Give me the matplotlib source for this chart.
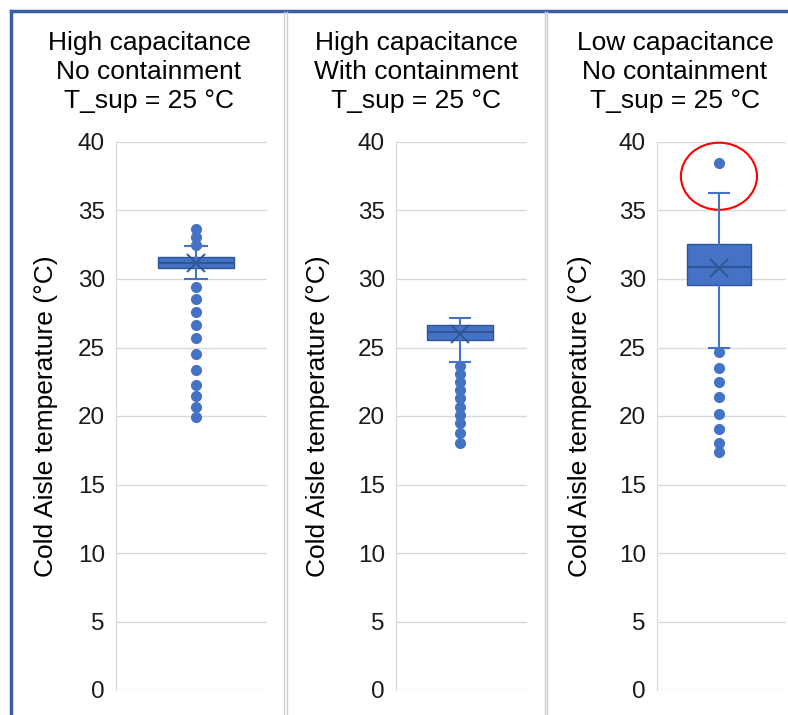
import matplotlib
matplotlib.use("Agg")
import matplotlib.pyplot as plt
from matplotlib.lines import Line2D
from matplotlib.patches import Ellipse

plt.rcParams['font.family'] = ['Liberation Sans', 'DejaVu Sans']

titles = [
    "High capacitance\nNo containment\nT_sup = 25 °C",
    "High capacitance\nWith containment\nT_sup = 25 °C",
    "Low capacitance\nNo containment\nT_sup = 25 °C",
]
ylabel = "Cold Aisle temperature (°C)"
yticks = [0, 5, 10, 15, 20, 25, 30, 35, 40]

# five-number summary + mean for each case
q1 = [30.83, 25.55, 29.56]
median = [31.2, 26.15, 30.9]
q3 = [31.58, 26.64, 32.55]
whisker_lo = [29.97, 23.92, 25.0]
whisker_hi = [32.4, 27.18, 36.3]
mean = [31.15, 26.0, 30.77]
outliers = [
    [33.63, 33.04, 32.5, 29.39, 28.52, 27.61, 26.64, 25.67, 24.55,
     23.36, 22.28, 21.46, 20.68, 19.93],
    [23.65, 23.07, 22.5, 21.9, 21.3, 20.68, 20.07, 19.47, 18.78, 18.05],
    [38.5, 24.7, 23.48, 22.46, 21.36, 20.15, 19.03, 18.0, 17.35],
]

BLUE = "#4472C4"
DARK = "#2F5597"
GRID = "#D9D9D9"

W, H = 788, 715
fig = plt.figure(figsize=(W / 100, H / 100), dpi=100)

# axes boxes in pixels: left, right
ax_px = [(116, 267), (396, 527), (657, 786)]
top_px, bot_px = 142, 690
xlims = [(0.47, 1.47), (0.51, 1.51), (0.52, 1.52)]
title_x = [149, 416, 675]
ylabel_x = [46, 318, 580]

axes = []
for i in range(3):
    l, r = ax_px[i]
    ax = fig.add_axes([l / W, 1 - bot_px / H, (r - l) / W, (bot_px - top_px) / H])
    stats = [{
        "med": median[i], "q1": q1[i], "q3": q3[i],
        "whislo": whisker_lo[i], "whishi": whisker_hi[i],
        "mean": mean[i], "fliers": outliers[i],
    }]
    ax.bxp(stats, positions=[1], widths=0.5, capwidths=0.15,
           showmeans=True, patch_artist=True,
           boxprops=dict(facecolor=BLUE, edgecolor=DARK, linewidth=1),
           medianprops=dict(color=DARK, linewidth=1.5),
           whiskerprops=dict(color=BLUE, linewidth=1.5),
           capprops=dict(color=BLUE, linewidth=1.5),
           meanprops=dict(marker="x", markeredgecolor=DARK, markersize=13,
                          markeredgewidth=1.4),
           flierprops=dict(marker="o", markerfacecolor=BLUE,
                           markeredgecolor=BLUE, markersize=7))
    ax.set_xlim(*xlims[i])
    ax.set_ylim(0, 40)
    ax.set_yticks(yticks)
    ax.set_xticks([])
    ax.tick_params(axis="y", length=0, pad=8, labelsize=17.5, colors="#1a1a1a")
    ax.yaxis.grid(True, color=GRID, linewidth=1)
    ax.set_axisbelow(True)
    for side in ["top", "right", "bottom"]:
        ax.spines[side].set_visible(False)
    ax.spines["left"].set_color(GRID)
    ax.patch.set_alpha(0)
    fig.text(ylabel_x[i] / W, 1 - 416 / H, ylabel, rotation=90,
             ha="center", va="center", fontsize=19)
    fig.text(title_x[i] / W, 1 - 72 / H, titles[i], ha="center",
             va="center", fontsize=19, linespacing=1.28)
    axes.append(ax)

# circle around the top outlier of the last case
axes[2].add_patch(Ellipse((1, 37.5), 0.59, 4.9, fill=False,
                          edgecolor="red", linewidth=1.5, clip_on=False))

# frame lines: blue outer border and grey panel separators
fig.add_artist(Line2D([11 / W, 1], [1 - 11 / H] * 2, color="#3A5DA8", linewidth=2.5))
fig.add_artist(Line2D([11 / W] * 2, [0, 1 - 11 / H], color="#3A5DA8", linewidth=2.5))
for x in [283.5, 286.5, 544.5, 547.0]:
    fig.add_artist(Line2D([x / W] * 2, [0, 1 - 12 / H], color="#CFCFCF", linewidth=1))

fig.savefig("out.png", dpi=100)
